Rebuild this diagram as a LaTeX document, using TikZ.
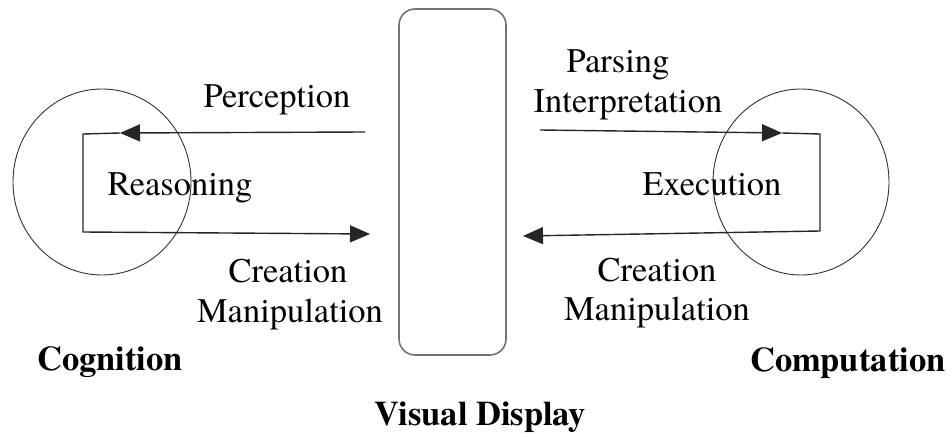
\documentclass[tikz,border=0pt]{standalone}
\usepackage{fontspec}
\IfFontExistsTF{texgyretermes-regular.otf}
  {\setmainfont{texgyretermes-regular.otf}[BoldFont=texgyretermes-bold.otf]
   \newcommand\regsize{\fontsize{34.5}{40}\selectfont}
   \newcommand\boldsize{\fontsize{34.5}{40}\selectfont}}
  {\setmainfont{Latin Modern Roman}
   \newcommand\regsize{\fontsize{35.5}{40}\selectfont}
   \newcommand\boldsize{\fontsize{30}{40}\selectfont}}
\usetikzlibrary{arrows.meta,shapes.geometric}
\begin{document}
\begin{tikzpicture}[x=1pt,y=-1pt,
  lbl/.style={anchor=base,inner sep=0pt,font=\regsize},
  blbl/.style={anchor=base,inner sep=0pt,font=\boldsize\bfseries},
  loop/.style={line width=1.4pt,black!85},
  tip/.style={-{Triangle[length=20pt,width=17pt]}},
  circ/.style={draw=black!80,line width=0.9pt,ellipse,inner sep=0pt},
  disp/.style={draw=black!55,line width=1.6pt,rounded corners=16pt,inner sep=0pt}]
\useasboundingbox (0,0) rectangle (952,436);
% shapes
\node[circ,minimum width=178pt,minimum height=186pt] (cog) at (102,182) {};
\node[circ,minimum width=176pt,minimum height=186pt] (comp) at (801,182) {};
\node[disp,minimum width=107pt,minimum height=346pt] (display) at (452.5,182) {};
% left loop
\coordinate (lps) at (365,132);
\coordinate (lpt) at (120,133);
\coordinate (ltl) at (83,134);
\coordinate (lbl) at (83,232);
\coordinate (lbe) at (370,234);
\draw[loop,tip] (lps) -- (lpt);
\draw[loop,tip] (lpt) -- (ltl) -- (lbl) -- (lbe);
% right loop
\coordinate (rps) at (540,130);
\coordinate (rpt) at (782,133);
\coordinate (rtr) at (820,134);
\coordinate (rbr) at (820,231);
\coordinate (rbe) at (523,236);
\draw[loop,tip] (rps) -- (rpt);
\draw[loop,tip] (rpt) -- (rtr) -- (rbr) -- (rbe);
% labels
\node[lbl] (perc) at (277,107) {Perception};
\node[lbl] (reas) at (180,195) {Reasoning};
\node[lbl] (creL) at (288,282) {Creation};
\node[lbl] (manL) at (290,322) {Manipulation};
\node[lbl] (pars) at (618,73) {Parsing};
\node[lbl] (interp) at (628,112) {Interpretation};
\node[lbl] (exec) at (712,195) {Execution};
\node[lbl] (creR) at (657,281) {Creation};
\node[lbl] (manR) at (657,320) {Manipulation};
\node[blbl] (cogl) at (110,370) {Cognition};
\node[blbl] (compl) at (848,371) {Computation};
\node[blbl] (displ) at (480,425) {Visual Display};
\end{tikzpicture}
\end{document}
